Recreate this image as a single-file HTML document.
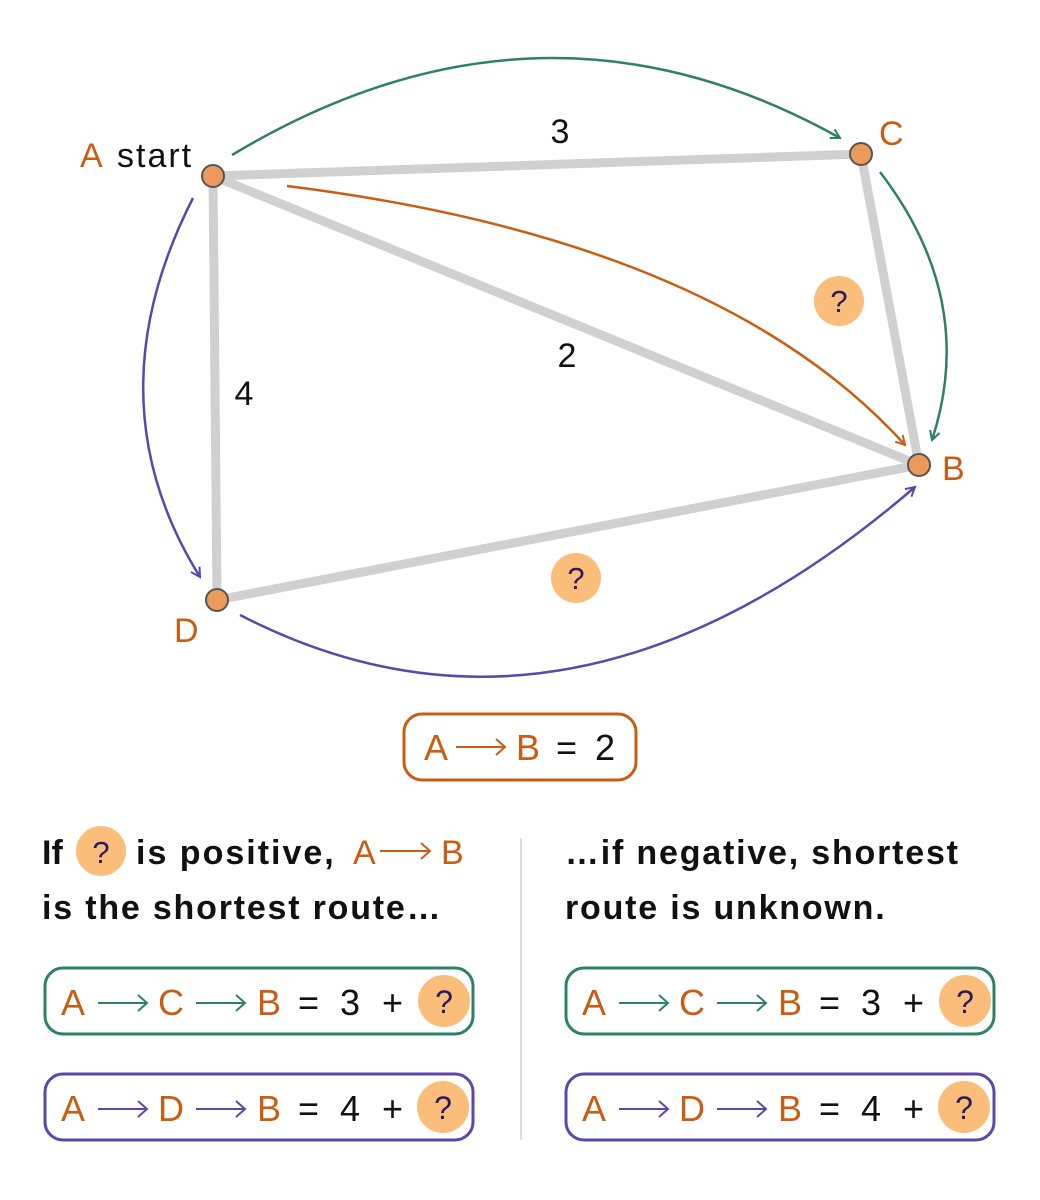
<!DOCTYPE html>
<html><head><meta charset="utf-8"><style>
html,body{margin:0;padding:0;background:#fff}
svg{display:block}
text{font-family:"Liberation Sans",sans-serif}
</style></head><body>
<svg width="1040" height="1200" viewBox="0 0 1040 1200" xmlns="http://www.w3.org/2000/svg">
<defs>
<marker id="ag" viewBox="0 0 12 12" refX="10" refY="6" markerWidth="12" markerHeight="12" markerUnits="userSpaceOnUse" orient="auto"><path d="M1,1 L10,6 L1,11" fill="none" stroke="#2e8068" stroke-width="2"/></marker>
<marker id="ao" viewBox="0 0 12 12" refX="10" refY="6" markerWidth="12" markerHeight="12" markerUnits="userSpaceOnUse" orient="auto"><path d="M1,1 L10,6 L1,11" fill="none" stroke="#c95e12" stroke-width="2"/></marker>
<marker id="ap" viewBox="0 0 12 12" refX="10" refY="6" markerWidth="12" markerHeight="12" markerUnits="userSpaceOnUse" orient="auto"><path d="M1,1 L10,6 L1,11" fill="none" stroke="#5d47a8" stroke-width="2"/></marker>
</defs>
<g stroke="#d0d0d0" stroke-width="9" stroke-linecap="round">
<line x1="213" y1="176" x2="861" y2="154"/>
<line x1="213" y1="176" x2="919" y2="465"/>
<line x1="213" y1="176" x2="217" y2="600"/>
<line x1="861" y1="154" x2="919" y2="465"/>
<line x1="217" y1="600" x2="919" y2="465"/>
</g>
<g fill="none" stroke-width="2.5">
<path d="M232,155 Q540,-30 840,138" stroke="#2e8068" marker-end="url(#ag)"/>
<path d="M880,172 Q978,300 932,440" stroke="#2e8068" marker-end="url(#ag)"/>
<path d="M287,186 Q720,240 905,445" stroke="#c95e12" marker-end="url(#ao)"/>
<path d="M193,198 Q90,400 200,577" stroke="#5d47a8" marker-end="url(#ap)"/>
<path d="M240,615 Q569,785 915,487" stroke="#5d47a8" marker-end="url(#ap)"/>
</g>
<g fill="#eb9a5a" stroke="#555" stroke-width="2">
<circle cx="213" cy="176" r="11"/><circle cx="861" cy="154" r="11"/>
<circle cx="919" cy="465" r="11"/><circle cx="217" cy="600" r="11"/>
</g>
<g fill="#fbbd7a"><circle cx="839" cy="301" r="25"/><circle cx="576" cy="578" r="25"/></g>
<g font-size="31" fill="#2a1a5e" text-anchor="middle"><text x="839" y="312">?</text><text x="576" y="589">?</text></g>
<g font-size="34">
<text x="80" y="167" fill="#c95e12">A</text><text x="117" y="167" fill="#111" letter-spacing="2">start</text>
<text x="879" y="145" fill="#c95e12">C</text>
<text x="942" y="480" fill="#c95e12">B</text>
<text x="174" y="642" fill="#c95e12">D</text>
<text x="560" y="143" fill="#111" text-anchor="middle">3</text>
<text x="567" y="367" fill="#111" text-anchor="middle">2</text>
<text x="244" y="405" fill="#111" text-anchor="middle">4</text>
</g>
<rect x="404" y="714" width="232" height="66" rx="18" fill="none" stroke="#c95e12" stroke-width="3"/>
<g font-size="36">
<text x="424" y="760" fill="#c95e12">A</text>
<text x="516" y="760" fill="#c95e12">B</text>
<text x="556" y="760" fill="#111">=</text>
<text x="595" y="760" fill="#111">2</text>
</g>
<path d="M456,747 H505 M496,739 L505,747 L496,755" fill="none" stroke="#c95e12" stroke-width="2"/>
<line x1="521" y1="838" x2="521" y2="1140" stroke="#ddd" stroke-width="2"/>
<g font-size="34" font-weight="bold" fill="#111">
<text x="42" y="864">If</text>
<text x="136" y="864" letter-spacing="2">is positive,</text>
<text x="42" y="919" letter-spacing="1.8">is the shortest route…</text>
<text x="565" y="864" letter-spacing="1.8">…if negative, shortest</text>
<text x="565" y="919" letter-spacing="1.8">route is unknown.</text>
</g>
<circle cx="101" cy="851" r="25" fill="#fbbd7a"/>
<text x="101" y="863" font-size="31" fill="#2a1a5e" text-anchor="middle">?</text>
<text x="353" y="864" font-size="34" fill="#c95e12">A</text>
<text x="441" y="864" font-size="34" fill="#c95e12">B</text>
<path d="M380,851 H430 M421,843 L430,851 L421,859" fill="none" stroke="#c95e12" stroke-width="2"/>
<g id="rows">
<g>
<rect x="45" y="968" width="428" height="66" rx="18" fill="none" stroke="#2e8068" stroke-width="3"/>
<g font-size="36"><text x="61" y="1015" fill="#c95e12">A</text><text x="158" y="1015" fill="#c95e12">C</text><text x="257" y="1015" fill="#c95e12">B</text><text x="298" y="1015" fill="#111">=</text><text x="340" y="1015" fill="#111">3</text><text x="382" y="1015" fill="#111">+</text></g>
<path d="M98,1003 H147 M138,995 L147,1003 L138,1011 M196,1003 H245 M236,995 L245,1003 L236,1011" fill="none" stroke="#2e8068" stroke-width="2"/>
<circle cx="444" cy="1001" r="26" fill="#fbbd7a"/><text x="444" y="1013" font-size="32" fill="#2a1a5e" text-anchor="middle">?</text>
</g>
<g>
<rect x="45" y="1074" width="428" height="66" rx="18" fill="none" stroke="#5d47a8" stroke-width="3"/>
<g font-size="36"><text x="61" y="1121" fill="#c95e12">A</text><text x="158" y="1121" fill="#c95e12">D</text><text x="257" y="1121" fill="#c95e12">B</text><text x="298" y="1121" fill="#111">=</text><text x="340" y="1121" fill="#111">4</text><text x="382" y="1121" fill="#111">+</text></g>
<path d="M98,1109 H147 M138,1101 L147,1109 L138,1117 M196,1109 H245 M236,1101 L245,1109 L236,1117" fill="none" stroke="#5d47a8" stroke-width="2"/>
<circle cx="443" cy="1107" r="26" fill="#fbbd7a"/><text x="443" y="1119" font-size="32" fill="#2a1a5e" text-anchor="middle">?</text>
</g>
</g>
<use href="#rows" x="521" y="0"/>
</svg>
</body></html>
